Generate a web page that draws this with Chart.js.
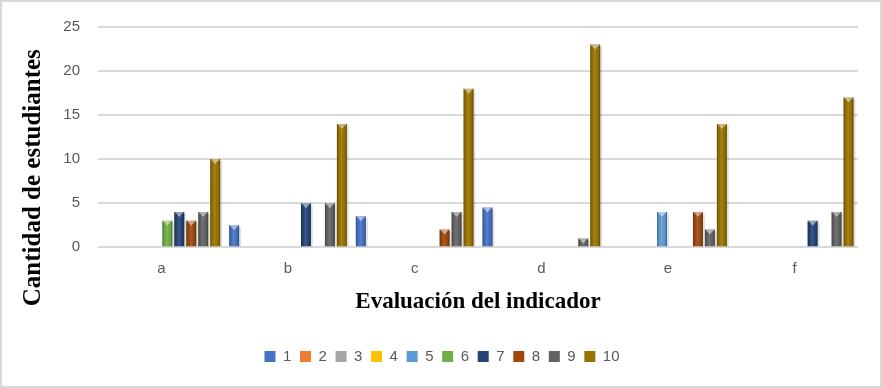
<!DOCTYPE html>
<html>
<head>
<meta charset="utf-8">
<script src="https://cdn.jsdelivr.net/npm/chart.js@4/dist/chart.umd.min.js"></script>
<style>
  html, body { margin: 0; padding: 0; background: #fff; }
  #wrap { width: 882px; height: 388px; }
</style>
</head>
<body>
<div id="wrap"><canvas id="chart" width="882" height="388"></canvas></div>
<script>
// categories and tick labels
const categories = ['a', 'b', 'c', 'd', 'e', 'f'];
const seriesNames = ['1', '2', '3', '4', '5', '6', '7', '8', '9', '10'];
const yTicks = [0, 5, 10, 15, 20, 25];

// values per series (one entry per category)
const s1 = [0, 2.5, 3.5, 4.5, 0, 0];
const s2 = [0, 0, 0, 0, 0, 0];
const s3 = [0, 0, 0, 0, 0, 0];
const s4 = [0, 0, 0, 0, 0, 0];
const s5 = [0, 0, 0, 0, 4, 0];
const s6 = [3, 0, 0, 0, 0, 0];
const s7 = [4, 5, 0, 0, 0, 3];
const s8 = [3, 0, 2, 0, 4, 0];
const s9 = [4, 5, 4, 1, 2, 4];
const s10 = [10, 14, 18, 23, 14, 17];

const seriesValues = [s1, s2, s3, s4, s5, s6, s7, s8, s9, s10];
const seriesColors = ['#4472C4', '#ED7D31', '#A5A5A5', '#FFC000', '#5B9BD5',
                      '#70AD47', '#264478', '#9E480E', '#636363', '#997300'];

const yTitle = 'Cantidad de estudiantes';

// page border and the y title (Excel places it on the whole frame, not the plot)
const frame = {
    id: 'frame',
    afterLayout(chart) {
        // legend is centred on the whole frame in the original
        chart.legend.left += 13;
        chart.legend.right += 13;
    },
    beforeDraw(chart) {
        const c = chart.ctx;
        c.save();
        c.fillStyle = '#fff';
        c.fillRect(0, 0, chart.width, chart.height);
        c.strokeStyle = '#d9d9d9';
        c.lineWidth = 2;
        c.strokeRect(1, 1, chart.width - 2, chart.height - 2);
        c.restore();
    },
    afterDraw(chart) {
        const c = chart.ctx;
        c.save();
        c.translate(34, chart.height * 0.458);
        c.rotate(-Math.PI / 2);
        c.font = 'bold 25px "Liberation Serif"';
        c.fillStyle = '#000';
        c.textAlign = 'center';
        c.textBaseline = 'middle';
        c.fillText(yTitle, 0, 0);
        c.restore();
    }
};

// bevelled look of the bars: shadow, side shading, top triangle
const bevel = {
    id: 'bevel',
    beforeDatasetsDraw(chart) {
        const c = chart.ctx;
        c.save();
        chart.data.datasets.forEach((ds, i) => {
            chart.getDatasetMeta(i).data.forEach(el => {
                const p = el.getProps(['x', 'y', 'base', 'width'], true);
                if (p.base - p.y < 0.5) return;
                c.fillStyle = 'rgba(0,0,0,0.12)';
                c.fillRect(p.x - p.width / 2 + 2, p.y + 2, p.width, p.base - p.y - 2);
            });
        });
        c.restore();
    },
    afterDatasetsDraw(chart) {
        const c = chart.ctx;
        c.save();
        chart.data.datasets.forEach((ds, i) => {
            chart.getDatasetMeta(i).data.forEach(el => {
                const p = el.getProps(['x', 'y', 'base', 'width'], true);
                const h = p.base - p.y;
                if (h < 0.5) return;
                const left = p.x - p.width / 2;
                const g = c.createLinearGradient(left, 0, left + p.width, 0);
                g.addColorStop(0, 'rgba(0,0,0,0.35)');
                g.addColorStop(0.18, 'rgba(0,0,0,0.05)');
                g.addColorStop(0.45, 'rgba(255,255,255,0.12)');
                g.addColorStop(0.82, 'rgba(0,0,0,0.05)');
                g.addColorStop(1, 'rgba(0,0,0,0.4)');
                c.fillStyle = g;
                c.fillRect(left, p.y, p.width, h);
                // top highlight
                c.fillStyle = 'rgba(255,255,255,0.5)';
                c.fillRect(left + 1, p.y, p.width - 2, 1.5);
                c.beginPath();
                c.moveTo(left + 2, p.y + 1.5);
                c.lineTo(left + p.width - 2, p.y + 1.5);
                c.lineTo(p.x, p.y + Math.min(5, h));
                c.closePath();
                c.fill();
            });
        });
        c.restore();
    }
};

new Chart(document.getElementById('chart'), {
    type: 'bar',
    data: {
        labels: categories,
        datasets: seriesNames.map((name, i) => ({
            label: name,
            data: seriesValues[i],
            backgroundColor: seriesColors[i],
            borderWidth: 0,
            categoryPercentage: 0.945,
            barPercentage: 0.83
        }))
    },
    options: {
        responsive: false,
        animation: false,
        devicePixelRatio: 1,
        layout: { padding: { top: 8, right: 24, bottom: 14, left: 0 } },
        scales: {
            x: {
                grid: { display: false },
                border: { display: false },
                ticks: { color: '#595959', font: { family: 'Liberation Sans', size: 15 }, padding: 5 },
                title: {
                    display: true,
                    text: 'Evaluación del indicador',
                    color: '#000',
                    font: { family: 'Liberation Serif', size: 23, weight: 'bold' },
                    padding: { top: 5.5, bottom: 24 }
                }
            },
            y: {
                min: 0,
                max: 25,
                afterBuildTicks: axis => { axis.ticks = yTicks.map(v => ({ value: v })); },
                afterFit: axis => { axis.width = 98; },
                grid: { color: '#d9d9d9', lineWidth: 2, drawTicks: false },
                border: { display: false },
                ticks: { color: '#595959', font: { family: 'Liberation Sans', size: 15 }, padding: 18 }
            }
        },
        plugins: {
            legend: {
                position: 'bottom',
                labels: {
                    boxWidth: 11,
                    boxHeight: 11,
                    padding: 8.7,
                    color: '#595959',
                    font: { family: 'Liberation Sans', size: 15 }
                }
            },
            tooltip: { enabled: false }
        }
    },
    plugins: [frame, bevel]
});
</script>
</body>
</html>
